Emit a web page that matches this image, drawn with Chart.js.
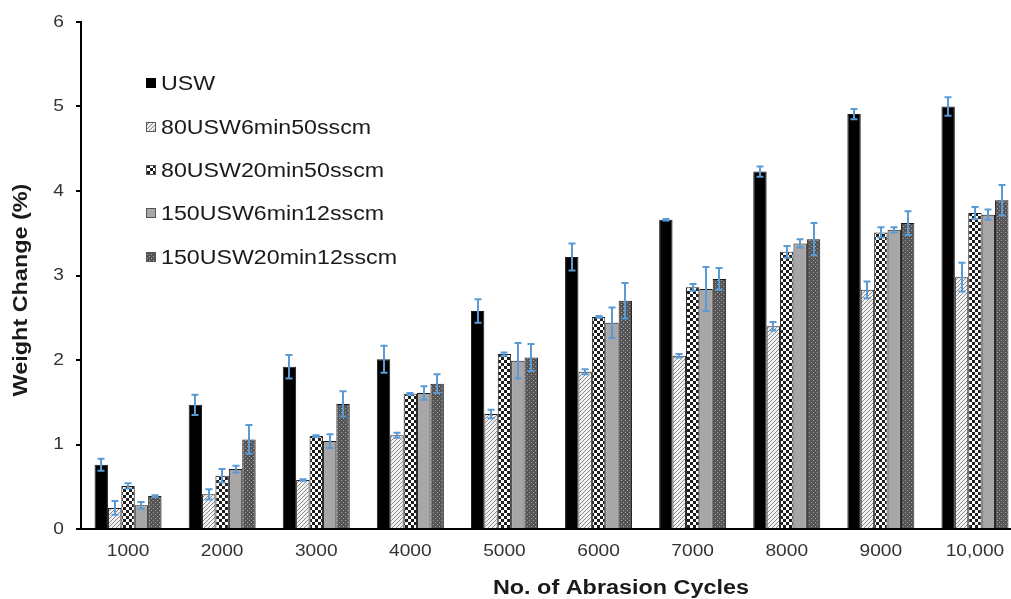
<!DOCTYPE html>
<html>
<head>
<meta charset="utf-8">
<script src="https://cdn.jsdelivr.net/npm/chart.js@4.4.1/dist/chart.umd.min.js"></script>
<style>
  html, body { margin: 0; padding: 0; background: #fff; }
  #wrap { width: 1011px; height: 599px; overflow: hidden; position: relative; }
  canvas { display: block; }
</style>
</head>
<body>
<div id="wrap"><canvas id="c" width="1040" height="599"></canvas></div>
<script>
// ---- data ----
const categories = ['1000', '2000', '3000', '4000', '5000', '6000', '7000', '8000', '9000', '10,000'];
const seriesNames = ['USW', '80USW6min50sscm', '80USW20min50sscm', '150USW6min12sscm', '150USW20min12sscm'];
const usw        = [0.76, 1.47, 1.92, 2.01, 2.58, 3.22, 3.66, 4.23, 4.91, 5.00];
const uswErr     = [0.07, 0.12, 0.14, 0.16, 0.14, 0.16, 0.01, 0.06, 0.06, 0.11];
const u80m6      = [0.25, 0.41, 0.58, 1.11, 1.36, 1.86, 2.05, 2.40, 2.83, 2.98];
const u80m6Err   = [0.08, 0.06, 0.01, 0.03, 0.05, 0.03, 0.02, 0.05, 0.10, 0.17];
const u80m20     = [0.51, 0.63, 1.10, 1.60, 2.07, 2.51, 2.86, 3.28, 3.51, 3.74];
const u80m20Err  = [0.03, 0.08, 0.01, 0.01, 0.02, 0.01, 0.04, 0.07, 0.06, 0.07];
const u150m6     = [0.28, 0.71, 1.04, 1.61, 1.99, 2.44, 2.84, 3.38, 3.54, 3.72];
const u150m6Err  = [0.04, 0.04, 0.08, 0.08, 0.21, 0.18, 0.26, 0.05, 0.03, 0.06];
const u150m20    = [0.39, 1.06, 1.48, 1.72, 2.03, 2.70, 2.96, 3.43, 3.62, 3.89];
const u150m20Err = [0.01, 0.17, 0.15, 0.11, 0.16, 0.21, 0.13, 0.19, 0.14, 0.18];
const yTicks = [0, 1, 2, 3, 4, 5, 6];
const xTitle = 'No. of Abrasion Cycles';
const yTitle = 'Weight Change (%)';

const values = [usw, u80m6, u80m20, u150m6, u150m20];
const errors = [uswErr, u80m6Err, u80m20Err, u150m6Err, u150m20Err];

// ---- patterns ----
const canvas = document.getElementById('c');
const mainCtx = canvas.getContext('2d');
function makePattern(size, draw) {
  const c = document.createElement('canvas');
  c.width = size; c.height = size;
  const g = c.getContext('2d');
  draw(g, size);
  return mainCtx.createPattern(c, 'repeat');
}
const hatch = makePattern(4, (g) => {
  g.fillStyle = '#f2f2f2'; g.fillRect(0, 0, 4, 4);
  g.fillStyle = '#8c8c8c';
  g.fillRect(0, 3, 1, 1); g.fillRect(1, 2, 1, 1); g.fillRect(2, 1, 1, 1); g.fillRect(3, 0, 1, 1);
});
const checker = makePattern(6, (g) => {
  g.fillStyle = '#ffffff'; g.fillRect(0, 0, 6, 6);
  g.fillStyle = '#1e1e1e'; g.fillRect(0, 0, 3, 3); g.fillRect(3, 3, 3, 3);
});
const dots = makePattern(4, (g) => {
  g.fillStyle = '#555555'; g.fillRect(0, 0, 4, 4);
  g.fillStyle = '#a3a3a3'; g.fillRect(1, 0, 1, 1); g.fillRect(3, 2, 1, 1);
});
const fills = ['#000000', hatch, checker, '#a8a6a7', dots];

// ---- helpers ----
const SX = 1.16;
function txt(ctx, s, x, y, font, align, color, rot, sx) {
  ctx.save();
  ctx.translate(x, y);
  if (rot) ctx.rotate(rot);
  ctx.scale(sx || SX, 1);
  ctx.font = font;
  ctx.fillStyle = color;
  ctx.textAlign = align;
  ctx.textBaseline = 'middle';
  ctx.fillText(s, 0, 0);
  ctx.restore();
}

const decorPlugin = {
  id: 'decor',
  afterDatasetsDraw(chart) {
    const ctx = chart.ctx;
    const ys = chart.scales.y;
    // error bars
    ctx.save();
    ctx.strokeStyle = '#5b9bd5';
    ctx.lineWidth = 2;
    chart.data.datasets.forEach((ds, i) => {
      const meta = chart.getDatasetMeta(i);
      meta.data.forEach((el, j) => {
        const v = values[i][j], e = errors[i][j];
        const x = Math.round(el.x);
        const t = ys.getPixelForValue(v + e);
        const b = ys.getPixelForValue(Math.max(0, v - e));
        ctx.beginPath();
        ctx.moveTo(x, t); ctx.lineTo(x, b);
        ctx.moveTo(x - 3.5, t); ctx.lineTo(x + 3.5, t);
        ctx.moveTo(x - 3.5, b); ctx.lineTo(x + 3.5, b);
        ctx.stroke();
      });
    });
    ctx.restore();
  },
  afterDraw(chart) {
    const ctx = chart.ctx;
    const ys = chart.scales.y, xs = chart.scales.x;
    const tickFont = '16.5px "Liberation Sans", Arial, sans-serif';
    yTicks.forEach(v => {
      txt(ctx, String(v), 64, ys.getPixelForValue(v), tickFont, 'right', '#333333');
    });
    categories.forEach((c, i) => {
      txt(ctx, c, xs.getPixelForTick(i), 551, tickFont, 'center', '#333333');
    });
    const titleFont = 'bold 19.5px "Liberation Sans", Arial, sans-serif';
    txt(ctx, xTitle, 621, 589, titleFont, 'center', '#1a1a1a', 0, 1.2);
    txt(ctx, yTitle, 22, 290, titleFont, 'center', '#1a1a1a', -Math.PI / 2, 1.2);
    // legend
    const rows = [83, 127, 170, 213, 257];
    const legFont = '20px "Liberation Sans", Arial, sans-serif';
    seriesNames.forEach((n, i) => {
      const y = rows[i];
      ctx.save();
      ctx.fillStyle = fills[i];
      ctx.fillRect(146, y - 5, 10, 10);
      if (i > 0) {
        ctx.strokeStyle = '#555';
        ctx.lineWidth = 1;
        ctx.strokeRect(146.5, y - 4.5, 9, 9);
      }
      ctx.restore();
      txt(ctx, n, 161, y + 1, legFont, 'left', '#1a1a1a');
    });
  }
};

new Chart(canvas, {
  type: 'bar',
  data: {
    labels: categories,
    datasets: seriesNames.map((n, i) => ({
      label: n,
      data: values[i],
      backgroundColor: fills[i],
      borderColor: '#1a1a1a',
      borderWidth: 1,
      categoryPercentage: 0.712,
      barPercentage: 1.0
    }))
  },
  options: {
    responsive: false,
    maintainAspectRatio: false,
    devicePixelRatio: 1,
    animation: false,
    layout: { padding: { top: 22, right: 18, left: 0, bottom: 0 } },
    plugins: { legend: { display: false }, tooltip: { enabled: false } },
    scales: {
      x: {
        grid: { display: false, drawTicks: false },
        border: { display: true, color: '#000', width: 2 },
        ticks: { color: 'rgba(0,0,0,0)', font: { size: 16 } },
        afterFit(s) { s.height = 70; }
      },
      y: {
        min: 0, max: 6,
        grid: { display: true, drawOnChartArea: false, drawTicks: true, tickLength: 5, color: '#000', lineWidth: 2 },
        border: { display: true, color: '#000', width: 2 },
        ticks: { stepSize: 1, color: 'rgba(0,0,0,0)', font: { size: 16 } },
        afterFit(s) { s.width = 81; }
      }
    }
  },
  plugins: [decorPlugin]
});
</script>
</body>
</html>
